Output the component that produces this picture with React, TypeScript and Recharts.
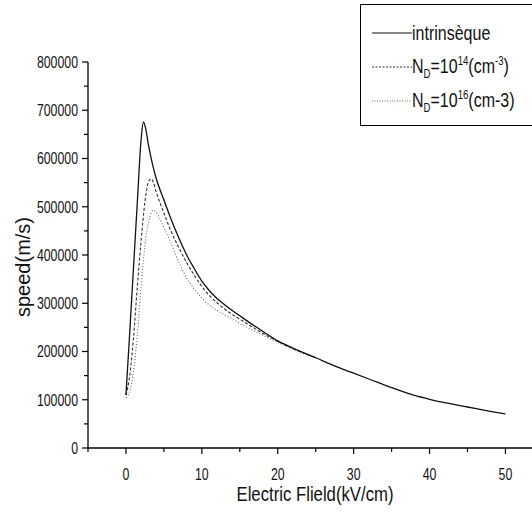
import { LineChart, Line, XAxis, YAxis } from "recharts";

// intrinsic material
const fieldIntr = [0, 0.5, 1, 1.5, 2, 2.3, 2.6, 3, 3.5, 4, 5, 6, 7, 8, 9, 10, 11, 12, 13, 14, 15, 16, 18, 20, 22, 25, 28, 30, 32, 35, 38, 40, 42, 45, 48, 50];
const speedIntr = [110000, 240000, 375000, 510000, 640000, 676000, 662000, 625000, 588000, 558000, 514000, 472000, 434000, 400000, 372000, 346000, 326000, 310000, 297000, 285000, 274000, 263000, 242000, 222000, 207000, 187000, 167000, 155000, 143000, 125000, 109000, 101000, 94000, 85000, 76000, 70500];

// N_D = 1e14 cm-3
const fieldD14 = [0, 0.5, 1, 1.5, 2, 2.5, 3, 3.3, 3.6, 4, 5, 6, 7, 8, 9, 10, 11, 12, 13, 14, 15, 16, 18, 20, 22, 25];
const speedD14 = [110000, 150000, 230000, 335000, 430000, 510000, 553000, 558000, 551000, 530000, 487000, 447000, 414000, 384000, 358000, 335000, 316000, 301000, 288000, 277000, 267000, 257000, 238000, 221000, 206000, 187000];

// N_D = 1e16 cm-3
const fieldD16 = [0, 0.5, 1, 1.5, 2, 2.5, 3, 3.6, 4, 4.5, 5, 6, 7, 8, 9, 10, 11, 12, 13, 14, 15, 16, 18, 20, 22, 25];
const speedD16 = [105000, 118000, 160000, 235000, 335000, 420000, 470000, 493000, 488000, 474000, 457000, 422000, 384000, 352000, 330000, 311000, 296000, 285000, 276000, 267000, 258000, 250000, 234000, 219000, 205000, 187000];

const xTicks = [-5, 0, 5, 10, 15, 20, 25, 30, 35, 40, 45, 50];
const yTicks = [0, 50000, 100000, 150000, 200000, 250000, 300000, 350000, 400000, 450000, 500000, 550000, 600000, 650000, 700000, 750000, 800000];

const toPoints = (xs: number[], ys: number[]) => xs.map((x, i) => ({ x, v: ys[i] }));

const FONT = '"Liberation Sans", Arial, sans-serif';
// the original uses a condensed face; squeeze glyphs to its width
const DIGIT_W = 6.85;

function XTick({ x, y, payload }: any) {
  const major = payload.value % 10 === 0;
  const s = String(payload.value);
  return (
    <g>
      <line x1={x} x2={x} y1={y} y2={y + (major ? 6 : 4)} stroke="#000" strokeWidth={1.2} />
      {major && (
        <text
          x={x}
          y={y + 32}
          textAnchor="middle"
          fontSize={16}
          fontFamily={FONT}
          fill="#111"
          textLength={s.length * DIGIT_W}
          lengthAdjust="spacingAndGlyphs"
        >
          {s}
        </text>
      )}
    </g>
  );
}

function YTick({ x, y, payload }: any) {
  const major = payload.value % 100000 === 0;
  const s = String(payload.value);
  return (
    <g>
      <line x1={x - (major ? 6 : 4)} x2={x} y1={y} y2={y} stroke="#000" strokeWidth={1.2} />
      {major && (
        <text
          x={x - 10}
          y={y}
          dy="0.36em"
          textAnchor="end"
          fontSize={16}
          fontFamily={FONT}
          fill="#111"
          textLength={s.length * DIGIT_W}
          lengthAdjust="spacingAndGlyphs"
        >
          {s}
        </text>
      )}
    </g>
  );
}

const sm = { fontSize: 12 };

function LegendRow({ dash, color, children }: any) {
  return (
    <div style={{ display: "flex", alignItems: "center", height: 34 }}>
      <svg width={40} height={10} style={{ flex: "none" }}>
        <line x1={0} x2={40} y1={5} y2={5} stroke={color} strokeWidth={1.1} strokeDasharray={dash} />
      </svg>
      <span style={{ whiteSpace: "nowrap", display: "inline-block", transform: "scaleX(0.8)", transformOrigin: "left center" }}>
        {children}
      </span>
    </div>
  );
}

export default function App() {
  return (
    <div style={{ position: "absolute", left: 0, top: 0, width: 532, height: 512, background: "#fff", overflow: "hidden" }}>
      <LineChart width={532} height={512} margin={{ top: 62, right: 0, bottom: 0, left: 0 }}>
        <XAxis
          type="number"
          dataKey="x"
          domain={[-5, 53.5]}
          ticks={xTicks}
          interval={0}
          height={64}
          tickSize={0}
          tickMargin={0}
          tickLine={false}
          tick={<XTick />}
          axisLine={{ stroke: "#000", strokeWidth: 1.3 }}
          allowDataOverflow
          label={{
            content: ({ viewBox }: any) => (
              <text
                x={viewBox.x + viewBox.width / 2 + 5}
                y={viewBox.y + 53}
                textAnchor="middle"
                fontSize={20}
                fontFamily={FONT}
                fill="#111"
                textLength={157}
                lengthAdjust="spacingAndGlyphs"
              >
                Electric Flield(kV/cm)
              </text>
            ),
          }}
        />
        <YAxis
          type="number"
          domain={[0, 800000]}
          ticks={yTicks}
          interval={0}
          width={88}
          tickSize={0}
          tickMargin={0}
          tickLine={false}
          tick={<YTick />}
          axisLine={{ stroke: "#000", strokeWidth: 1.3 }}
          allowDataOverflow
          label={{
            content: ({ viewBox }: any) => {
              const cy = viewBox.y + viewBox.height / 2 + 12;
              return (
                <text
                  x={30}
                  y={cy}
                  transform={`rotate(-90 30 ${cy})`}
                  textAnchor="middle"
                  fontSize={20}
                  fontFamily={FONT}
                  fill="#111"
                  textLength={100}
                  lengthAdjust="spacingAndGlyphs"
                >
                  speed(m/s)
                </text>
              );
            },
          }}
        />
        <Line
          data={toPoints(fieldD16, speedD16)}
          dataKey="v"
          type="monotone"
          stroke="#666"
          strokeWidth={1.1}
          strokeDasharray="1 2"
          dot={false}
          isAnimationActive={false}
        />
        <Line
          data={toPoints(fieldD14, speedD14)}
          dataKey="v"
          type="monotone"
          stroke="#333"
          strokeWidth={1.1}
          strokeDasharray="3 2"
          dot={false}
          isAnimationActive={false}
        />
        <Line
          data={toPoints(fieldIntr, speedIntr)}
          dataKey="v"
          type="monotone"
          stroke="#111"
          strokeWidth={1.3}
          dot={false}
          isAnimationActive={false}
        />
      </LineChart>
      <div
        style={{
          position: "absolute",
          left: 360,
          top: 4,
          width: 190,
          height: 122,
          border: "1px solid #000",
          boxSizing: "border-box",
          paddingLeft: 11,
          paddingTop: 11,
          fontFamily: FONT,
          fontSize: 20,
          color: "#111",
          lineHeight: 1,
        }}
      >
        <LegendRow dash={undefined} color="#111">intrinsèque</LegendRow>
        <LegendRow dash="2 1.5" color="#333">
          N<sub style={sm}>D</sub>=10<sup style={sm}>14</sup>(cm<sup style={sm}>-3</sup>)
        </LegendRow>
        <LegendRow dash="1 1.5" color="#666">
          N<sub style={sm}>D</sub>=10<sup style={sm}>16</sup>(cm-3)
        </LegendRow>
      </div>
    </div>
  );
}
